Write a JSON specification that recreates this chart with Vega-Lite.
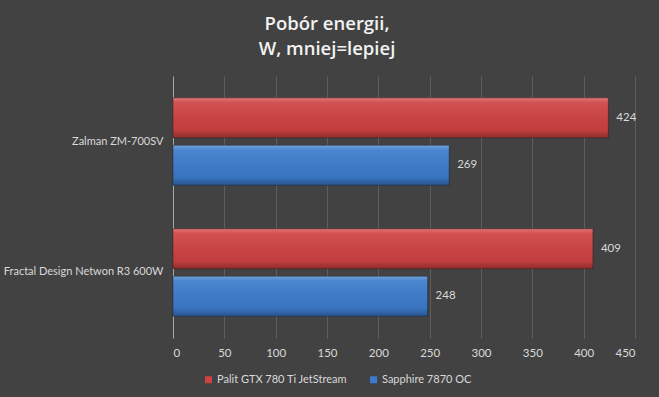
{
  "$schema": "https://vega.github.io/schema/vega-lite/v6.json",
  "width": 462,
  "height": 262,
  "autosize": "none",
  "padding": {"left": 173, "top": 76, "right": 24, "bottom": 59},
  "background": "#424242",
  "title": {
    "text": ["Pobór energii,", "W, mniej=lepiej"],
    "font": "Open Sans",
    "fontSize": 18.5,
    "fontWeight": 600,
    "color": "#f2f2f2",
    "anchor": "middle",
    "dx": -77,
    "offset": 18,
    "lineHeight": 25
  },
  "config": {
    "view": {"stroke": null},
    "font": "Lato"
  },
  "data": {
    "values": [
      {"psu": "Zalman ZM-700SV", "gpu": "Palit GTX 780 Ti JetStream", "w": 424},
      {"psu": "Zalman ZM-700SV", "gpu": "Sapphire 7870 OC", "w": 269},
      {"psu": "Fractal Design Netwon R3 600W", "gpu": "Palit GTX 780 Ti JetStream", "w": 409},
      {"psu": "Fractal Design Netwon R3 600W", "gpu": "Sapphire 7870 OC", "w": 248}
    ]
  },
  "encoding": {
    "y": {
      "field": "psu",
      "type": "nominal",
      "sort": ["Zalman ZM-700SV", "Fractal Design Netwon R3 600W"],
      "scale": {"paddingInner": 0.333, "paddingOuter": 0.167},
      "axis": {
        "title": null,
        "domain": true,
        "domainColor": "#a6a6a6",
        "ticks": false,
        "labelColor": "#d9d9d9",
        "labelFont": "Lato",
        "labelFontSize": 11,
        "labelPadding": 10,
        "labelLimit": 200
      }
    },
    "yOffset": {
      "field": "gpu",
      "type": "nominal",
      "scale": {"paddingInner": 0.16, "paddingOuter": 0}
    },
    "x": {
      "field": "w",
      "type": "quantitative",
      "scale": {"domain": [0, 450], "nice": false},
      "axis": {
        "title": null,
        "values": [0, 50, 100, 150, 200, 250, 300, 350, 400, 450],
        "grid": true,
        "gridColor": "#5e5e5e",
        "domain": false,
        "ticks": false,
        "labelColor": "#d9d9d9",
        "labelFont": "Lato",
        "labelFontSize": 11.5,
        "labelPadding": 9
      }
    }
  },
  "layer": [
    {
      "mark": {"type": "bar"},
      "encoding": {
        "color": {
          "field": "gpu",
          "type": "nominal",
          "scale": {
            "domain": ["Palit GTX 780 Ti JetStream", "Sapphire 7870 OC"],
            "range": ["#cf4242", "#3b7bcc"]
          },
          "legend": {
            "title": null,
            "orient": "none",
            "legendX": 30,
            "legendY": 298,
            "direction": "horizontal",
            "symbolType": "square",
            "symbolSize": 49,
            "symbolStrokeWidth": 0,
            "labelColor": "#d9d9d9",
            "labelFont": "Lato",
            "labelFontSize": 11,
            "labelOffset": 3,
            "columnPadding": 20,
            "padding": 0
          }
        }
      }
    },
    {
      "mark": {
        "type": "bar",
        "fill": {
          "gradient": "linear",
          "x1": 0, "y1": 0, "x2": 0, "y2": 1,
          "stops": [
            {"offset": 0, "color": "rgba(255,255,255,0.28)"},
            {"offset": 0.12, "color": "rgba(255,255,255,0.08)"},
            {"offset": 0.8, "color": "rgba(0,0,0,0.06)"},
            {"offset": 1, "color": "rgba(0,0,0,0.3)"}
          ]
        },
        "stroke": "rgba(0,0,0,0.3)",
        "strokeWidth": 1
      },
      "encoding": {}
    },
    {
      "mark": {
        "type": "text",
        "align": "left",
        "baseline": "middle",
        "dx": 8,
        "font": "Lato",
        "fontSize": 11.5,
        "color": "#d9d9d9"
      },
      "encoding": {
        "text": {"field": "w", "type": "quantitative"}
      }
    }
  ]
}
